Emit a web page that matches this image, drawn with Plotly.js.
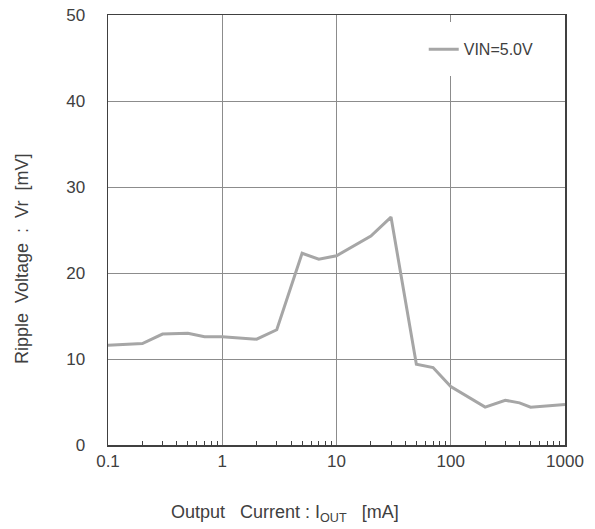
<!DOCTYPE html>
<html>
<head>
<meta charset="utf-8">
<script src="https://cdn.plot.ly/plotly-3.0.1.min.js"></script>
<style>html,body{margin:0;padding:0;background:#fff;}#chart{width:595px;height:529px;}</style>
</head>
<body>
<div id="chart"></div>
<script>
// Data
const outputCurrent = [0.1, 0.2, 0.3, 0.5, 0.7, 1, 2, 3, 5, 7, 10, 20, 30, 50, 70, 100, 200, 300, 400, 500, 1000];
const rippleVoltage = [11.6, 11.8, 12.9, 13.0, 12.6, 12.6, 12.3, 13.4, 22.3, 21.6, 22.0, 24.3, 26.5, 9.4, 9.0, 6.8, 4.4, 5.2, 4.9, 4.4, 4.7];
const seriesName = 'VIN=5.0V';
const xTickVals = [0.1, 1, 10, 100, 1000];
const xTickText = ['0.1', '1', '10', '100', '1000'];
const xMinorVals = [0.2,0.3,0.4,0.5,0.6,0.7,0.8,0.9,2,3,4,5,6,7,8,9,20,30,40,50,60,70,80,90,200,300,400,500,600,700,800,900];
const yTickVals = [0, 10, 20, 30, 40, 50];
const xTitle = 'Output   Current : I<sub>OUT</sub>   [mA]';
const yTitle = 'Ripple  Voltage  :  Vr  [mV]';

const font = {family: 'Liberation Sans, Arial, sans-serif', size: 17, color: '#404040'};
const titleFont = {family: 'Liberation Sans, Arial, sans-serif', size: 18, color: '#404040'};

const trace = {
  x: outputCurrent, y: rippleVoltage, name: seriesName,
  type: 'scatter', mode: 'lines',
  line: {color: '#a6a6a6', width: 3}
};

const layout = {
  width: 595, height: 529,
  margin: {l: 108, r: 30, t: 15, b: 84},
  paper_bgcolor: '#fff', plot_bgcolor: '#fff',
  font: font,
  showlegend: true,
  legend: {x: 0.669, y: 0.983, xanchor: 'left', yanchor: 'top', bgcolor: '#fff',
           bordercolor: '#fff', borderwidth: 10,
           font: {family: font.family, size: 16, color: '#404040'}},
  xaxis: {
    type: 'log', range: [-1, 3],
    tickmode: 'array', tickvals: xTickVals, ticktext: xTickText,
    ticks: '', showgrid: true, gridcolor: '#8c8c8c', gridwidth: 1,
    showline: true, linecolor: '#404040', linewidth: 1.5, mirror: true,
    zeroline: false, tickfont: font,
    minor: {tickmode: 'array', tickvals: xMinorVals, ticks: 'inside', ticklen: 4, tickcolor: '#404040', tickwidth: 1, showgrid: false}
  },
  yaxis: {
    range: [0, 50], tickmode: 'array', tickvals: yTickVals,
    ticks: '', showgrid: true, gridcolor: '#8c8c8c', gridwidth: 1,
    showline: true, linecolor: '#404040', linewidth: 1.5, mirror: true,
    zeroline: false, tickfont: font, ticklabelstandoff: 18
  },
  annotations: [
    {text: xTitle, xref: 'paper', yref: 'paper', x: (285-108)/457, y: -(513-445)/430, showarrow: false,
     xanchor: 'center', yanchor: 'middle', font: titleFont},
    {text: yTitle, xref: 'paper', yref: 'paper', x: -(108-22)/457, y: (445-259)/430, showarrow: false,
     textangle: -90, xanchor: 'center', yanchor: 'middle', font: titleFont}
  ]
};

Plotly.newPlot('chart', [trace], layout, {displayModeBar: false, staticPlot: true});
</script>
</body>
</html>
